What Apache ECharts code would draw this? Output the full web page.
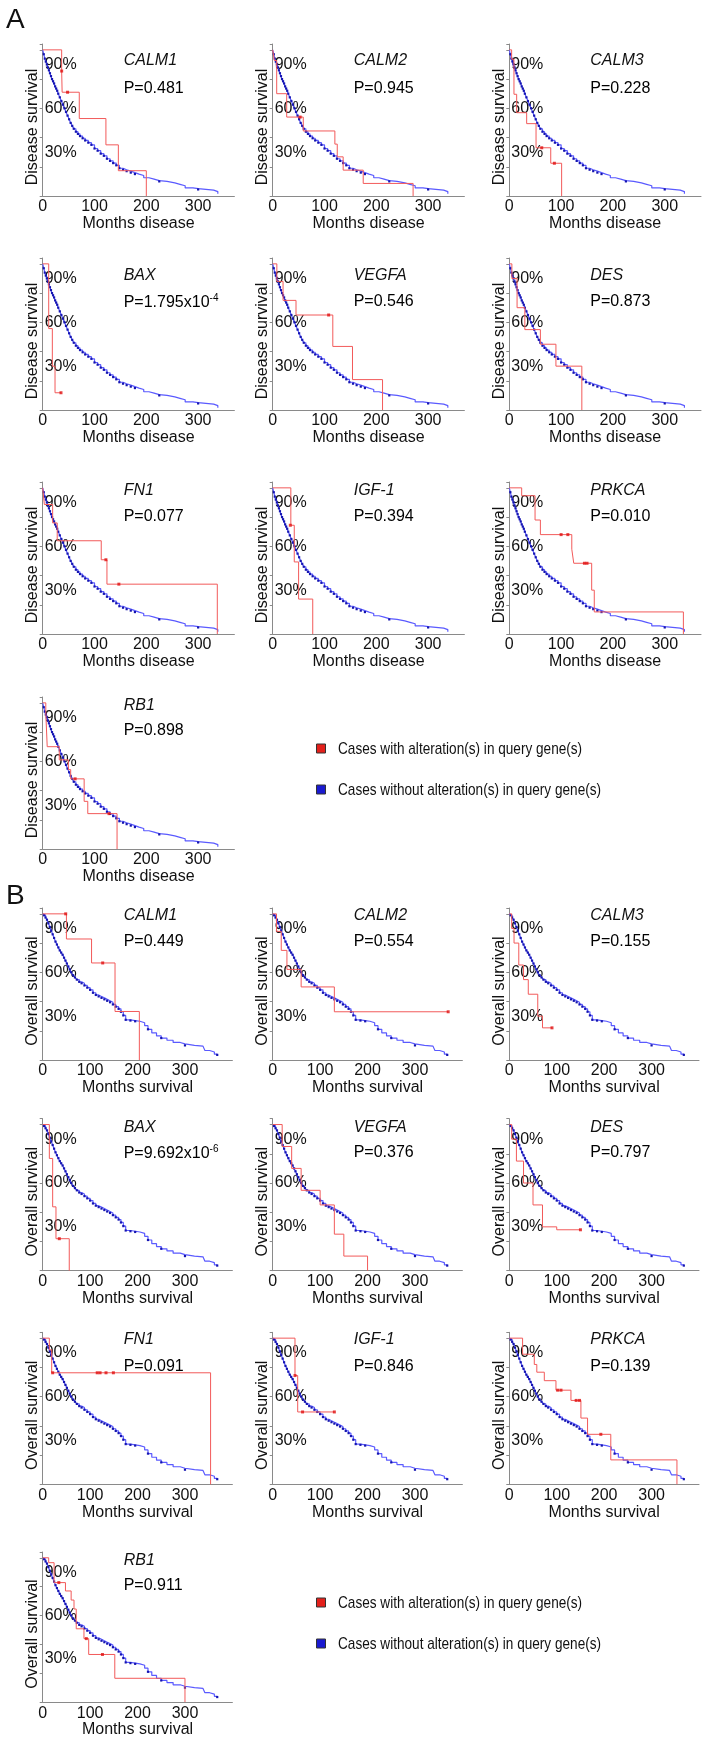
<!DOCTYPE html>
<html><head><meta charset="utf-8">
<script src="https://cdn.jsdelivr.net/npm/echarts@6/dist/echarts.min.js"></script>
<style>html,body{margin:0;padding:0;background:#fff}#c{width:708px;height:1739px}</style>
</head><body><div id="c"></div>
<script>
// ---------------- DATA ----------------
const genes = ['CALM1','CALM2','CALM3','BAX','VEGFA','DES','FN1','IGF-1','PRKCA','RB1'];
const pValuesA = ['0.481','0.945','0.228','1.795x10^-4','0.546','0.873','0.077','0.394','0.010','0.898'];
const pValuesB = ['0.449','0.554','0.155','9.692x10^-6','0.376','0.797','0.091','0.846','0.139','0.911'];
const yTickLabels = [30, 60, 90];
const xTickLabels = [0, 100, 200, 300];
const legendNames = ['Cases with alteration(s) in query gene(s)', 'Cases without alteration(s) in query gene(s)'];

// Blue (unaltered) Kaplan-Meier curves: [months, survival %]
const blueDisease = [[0,100],[2,97],[4,94],[6,92],[8,90],[10,88],[12,86],[14,84],[16,82],[18,80],[20,78.5],[22,77],[24,75],[26,73.5],[28,72],[30,70],[33,67.5],[36,65],[39,62.5],[42,60],[45,57.5],[48,55],[51,52.5],[54,50],[57,48],[60,46],[64,44],[68,42.5],[72,41],[77,39.5],[82,38],[88,36.5],[94,35],[100,32.5],[106,31],[112,29],[118,27.5],[124,25.5],[130,24],[136,22.5],[142,21],[148,19],[155,18],[162,17],[170,16],[178,15],[186,14],[195,12.5],[205,11.5],[215,10.5],[225,10],[240,9],[255,8],[265,7],[275,5.5],[290,5],[300,4.5],[315,4],[330,3],[338,1.5]];
const blueDiseaseLateCensor = [225, 300];
const blueOverall = [[0,100],[3,99],[6,97.5],[9,96],[12,93.5],[15,91],[18,88.5],[21,86],[24,83.5],[27,81],[30,79],[33,77],[36,75],[39,73.5],[42,72],[45,70],[48,68],[51,66],[54,64],[57,62],[60,60],[64,58],[68,56.5],[72,55],[77,53.5],[82,52.5],[88,51],[94,49.5],[100,48],[106,46],[112,44.5],[118,43.5],[124,42.5],[130,41.5],[136,40.5],[142,39.5],[148,38],[154,36.5],[160,35],[165,33],[170,30.5],[175,27.5],[185,27],[195,26.5],[205,25.5],[215,23.5],[222,21],[230,18.5],[240,16.5],[250,15],[262,13.5],[275,12],[290,11],[300,10],[320,9.5],[338,8.5],[342,6.5],[352,5.5],[362,4],[368,3.5]];
const blueOverallLateCensor = [185, 195, 222, 250, 300, 368];

// Red (altered) curves, part A (disease survival)
const redA_CALM1 = [[0,100],[36.6,85.5],[37.5,71],[70.6,53],[122,35],[146,17.3],[200,0]];
const censA_CALM1 = [[36.6,85.5],[48,71]];
const redA_CALM2 = [[0,100],[3.2,92.7],[7.7,70],[27,54],[59,44.5],[120,35.5],[124.6,26.8],[136,17.7],[174.7,8.6],[271,0]];
const censA_CALM2 = [[53,54]];
const redA_CALM3 = [[0,100],[4.5,93.6],[9,69.6],[14.2,57],[33.5,49.5],[51.6,33],[80,22.4],[101,0]];
const censA_CALM3 = [[62.6,33],[87,22.4]];
const redA_BAX = [[0,100],[11.6,55.7],[18.6,30],[23.8,11.8],[35.3,11.8]];
const censA_BAX = [[35.3,11.8]];
const redA_VEGFA = [[0,100],[8,88],[20,75],[45,65],[116,43.5],[154,20.8],[212,0]];
const censA_VEGFA = [[108,65]];
const redA_DES = [[0,100],[5,90],[15,70],[30,55],[60,45],[90,30],[140,0]];
const censA_DES = [];
const redA_FN1 = [[0,100],[3.2,88.6],[19.2,76],[28,63.8],[113,50.8],[124,34.1],[337,0]];
const censA_FN1 = [[122,50.8],[147,34.1]];
const redA_IGF1 = [[0,100],[35,74.4],[41.6,49.3],[50,23.9],[77.3,0]];
const censA_IGF1 = [[34,74.4]];
const redA_PRKCA = [[0,100],[23.9,94.6],[49.7,78],[60,68],[120.6,58],[124.4,48.4],[159,30],[164,15.1],[336,0]];
const censA_PRKCA = [[100,68],[113,68],[145,48.4],[150,48.4]];
const redA_RB1 = [[0,100],[6,93],[8.7,70],[32,61],[49.6,54.3],[54,48],[80,32.6],[87,24.2],[143.5,0]];
const censA_RB1 = [[62.6,48],[128,24.2]];

// Red (altered) curves, part B (overall survival)
const redB_CALM1 = [[0,100],[50,82.8],[103,66.4],[152.5,33.2],[203.8,0]];
const censB_CALM1 = [[48.5,100],[126.5,66.4]];
const redB_CALM2 = [[0,100],[8,88],[18,75],[30,62],[60,50],[130,33],[370,33]];
const censB_CALM2 = [[370,33]];
const redB_CALM3 = [[0,100],[5,90],[10,80],[20,65],[30,55],[40,45],[60,30],[70,22],[90,22]];
const censB_CALM3 = [[90,22]];
const redB_BAX = [[0,100],[14,76.8],[21,43.7],[28,21.9],[56,0]];
const censB_BAX = [[35,21.9]];
const redB_VEGFA = [[0,100],[20,85],[40,70],[60,55],[100,45],[130,25],[150,10],[200,0]];
const censB_VEGFA = [];
const redB_DES = [[0,100],[5,90],[15,75],[30,60],[50,45],[70,30],[100,28],[150,28]];
const censB_DES = [[150,28]];
const redB_FN1 = [[0,100],[14,92],[19,76.3],[354,0]];
const censB_FN1 = [[21,76.3],[115,76.3],[121,76.3],[133.5,76.3],[149,76.3]];
const redB_IGF1 = [[0,100],[47,74.4],[52.7,49.5],[130,49.5]];
const censB_IGF1 = [[47,74.4],[63,49.5],[130,49.5]];
const redB_PRKCA = [[0,100],[28,89],[52.7,82],[58,76.7],[73.8,70.9],[98.4,64.4],[130,57.4],[151,45.3],[165,34.2],[214,16.7],[353.5,0]];
const censB_PRKCA = [[102,64.4],[109,64.4],[141,57.4],[148,57.4],[193,34.2]];
const redB_RB1 = [[0,100],[12.6,96.6],[24,82.8],[48,77],[60,70.7],[66,64.5],[70.7,50.8],[87,44],[97,33],[152,16.5],[300,0]];
const censB_RB1 = [[34,82.8],[92,44],[126,33]];

const redA = [redA_CALM1, redA_CALM2, redA_CALM3, redA_BAX, redA_VEGFA, redA_DES, redA_FN1, redA_IGF1, redA_PRKCA, redA_RB1];
const censA = [censA_CALM1, censA_CALM2, censA_CALM3, censA_BAX, censA_VEGFA, censA_DES, censA_FN1, censA_IGF1, censA_PRKCA, censA_RB1];
const redB = [redB_CALM1, redB_CALM2, redB_CALM3, redB_BAX, redB_VEGFA, redB_DES, redB_FN1, redB_IGF1, redB_PRKCA, redB_RB1];
const censB = [censB_CALM1, censB_CALM2, censB_CALM3, censB_BAX, censB_VEGFA, censB_DES, censB_FN1, censB_IGF1, censB_PRKCA, censB_RB1];

// ---------------- LAYOUT ----------------
const FONT = '"Liberation Sans", Arial, Helvetica, sans-serif';
const colX = [42.7, 272.7, 509.3];
const zeroY = { A: [196, 410, 634, 849], B: [1060, 1270.7, 1484.3, 1704] };
const H = 152, YMAX = 104;
const W = { A: 191.7, B: 189.7 };
const XMAX = { A: 370, B: 400 };
const geneDy = { A: [12, 13, 4, 4], B: [3, 4, 2, 3.4] };
const pDy = { A: [40, 38.5, 30, 28.5], B: [29, 29, 29.3, 28.4] };
const legendRowsY = { A: [749, 790], B: [1603, 1644] };
const AXIS_COLOR = '#8a8a8a';
const TEXT_COLOR = '#111';

const grid = [], xAxis = [], yAxis = [], series = [], graphic = [];

function pText(v) {
  if (v.indexOf('^') >= 0) {
    const parts = v.split('^');
    return '{a|P=' + parts[0] + '}{s|' + parts[1] + '}';
  }
  return '{a|P=' + v + '}';
}

function addPanel(part, i) {
  const gi = grid.length;
  const row = Math.floor(i / 3), col = i % 3;
  const left = colX[col];
  const zero = zeroY[part][row];
  const top = zero - H;
  grid.push({ left: left, top: top, width: W[part], height: H, containLabel: false });
  xAxis.push({
    gridIndex: gi, type: 'value', min: 0, max: XMAX[part], interval: 100,
    name: part === 'A' ? 'Months disease' : 'Months survival',
    nameLocation: 'middle', nameGap: 14,
    nameTextStyle: { fontFamily: FONT, fontSize: 16, color: TEXT_COLOR },
    axisLine: { show: true, lineStyle: { color: AXIS_COLOR, width: 1 } },
    axisTick: { show: false },
    splitLine: { show: false },
    axisLabel: { fontFamily: FONT, fontSize: 16, color: TEXT_COLOR, margin: 3,
      formatter: v => (xTickLabels.indexOf(v) >= 0 ? String(v) : '') }
  });
  yAxis.push({
    gridIndex: gi, type: 'value', position: 'left', min: 0, max: YMAX, interval: 30,
    name: part === 'A' ? 'Disease survival' : 'Overall survival',
    nameLocation: 'middle', nameGap: 1,
    nameTextStyle: { fontFamily: FONT, fontSize: 16, color: TEXT_COLOR, padding: [0, 14, 0, 0] },
    axisLine: { show: true, lineStyle: { color: AXIS_COLOR, width: 1 } },
    axisTick: { show: false },
    splitLine: { show: false },
    axisLabel: { inside: true, margin: 2, fontFamily: FONT, fontSize: 16, color: TEXT_COLOR,
      formatter: v => (yTickLabels.indexOf(v) >= 0 ? v + '%' : '') }
  });
  yAxis.push({
    gridIndex: gi, type: 'value', position: 'left', offset: 0, min: 0, max: YMAX, interval: 20,
    axisLine: { show: false }, splitLine: { show: false }, axisLabel: { show: false },
    axisTick: { show: true, length: 3, lineStyle: { color: AXIS_COLOR } }
  });
  const blue = part === 'A' ? blueDisease : blueOverall;
  const late = part === 'A' ? blueDiseaseLateCensor : blueOverallLateCensor;
  series.push({
    type: 'line', name: legendNames[1], xAxisIndex: gi, yAxisIndex: gi * 2,
    data: blue, step: 'end', symbol: 'rect',
    symbolSize: v => (v[0] > 0 && (v[0] <= 180 || late.indexOf(v[0]) >= 0)) ? 2.2 : 0,
    lineStyle: { color: '#5a5aff', width: 1.2 }, itemStyle: { color: '#1515b0' },
    silent: true, z: 2
  });
  series.push({
    type: 'line', name: legendNames[0], xAxisIndex: gi, yAxisIndex: gi * 2,
    data: (part === 'A' ? redA : redB)[i], step: 'end', symbol: 'none', showSymbol: false,
    lineStyle: { color: '#f25a5a', width: 1 }, itemStyle: { color: '#f25a5a' },
    silent: true, z: 3
  });
  series.push({
    type: 'scatter', name: 'censored', xAxisIndex: gi, yAxisIndex: gi * 2,
    data: (part === 'A' ? censA : censB)[i], symbol: 'rect', symbolSize: 3,
    itemStyle: { color: '#e01010' }, silent: true, z: 4
  });
  const y100 = zero - 100 * H / YMAX;
  graphic.push({
    type: 'text', left: left + 81, top: y100 + geneDy[part][row] - 9,
    style: { text: genes[i], font: 'italic 16px ' + FONT, fill: TEXT_COLOR }
  });
  graphic.push({
    type: 'text', left: left + 81, top: y100 + pDy[part][row] - 9,
    style: { text: pText((part === 'A' ? pValuesA : pValuesB)[i]),
      rich: { a: { fontFamily: FONT, fontSize: 16, color: TEXT_COLOR, lineHeight: 18 },
              s: { fontFamily: FONT, fontSize: 10, color: TEXT_COLOR, verticalAlign: 'top', lineHeight: 18, padding: [0,0,8,0] } } }
  });
}

for (let i = 0; i < 10; i++) addPanel('A', i);
for (let i = 0; i < 10; i++) addPanel('B', i);

graphic.push({ type: 'text', left: 6, top: 6, style: { text: 'A', font: '28px ' + FONT, fill: TEXT_COLOR } });
graphic.push({ type: 'text', left: 6, top: 882, style: { text: 'B', font: '28px ' + FONT, fill: TEXT_COLOR } });

// legends (condensed text like the reference)
const legendColors = ['#e3201b', '#1a1ad0'];
['A', 'B'].forEach(part => {
  legendRowsY[part].forEach((cy, k) => {
    graphic.push({ type: 'rect', shape: { x: 316.5, y: cy - 5, width: 9, height: 9 },
      style: { fill: legendColors[k], stroke: '#333', lineWidth: 1 } });
    graphic.push({ type: 'text', x: 338, y: cy, scaleX: 0.8,
      style: { text: legendNames[k], font: '17px ' + FONT, fill: TEXT_COLOR, verticalAlign: 'middle', align: 'left' } });
  });
});

const chart = echarts.init(document.getElementById('c'), null, { renderer: 'canvas' });
chart.setOption({
  animation: false,
  backgroundColor: '#fff',
  grid, xAxis, yAxis, series, graphic
});
</script>
</body></html>
